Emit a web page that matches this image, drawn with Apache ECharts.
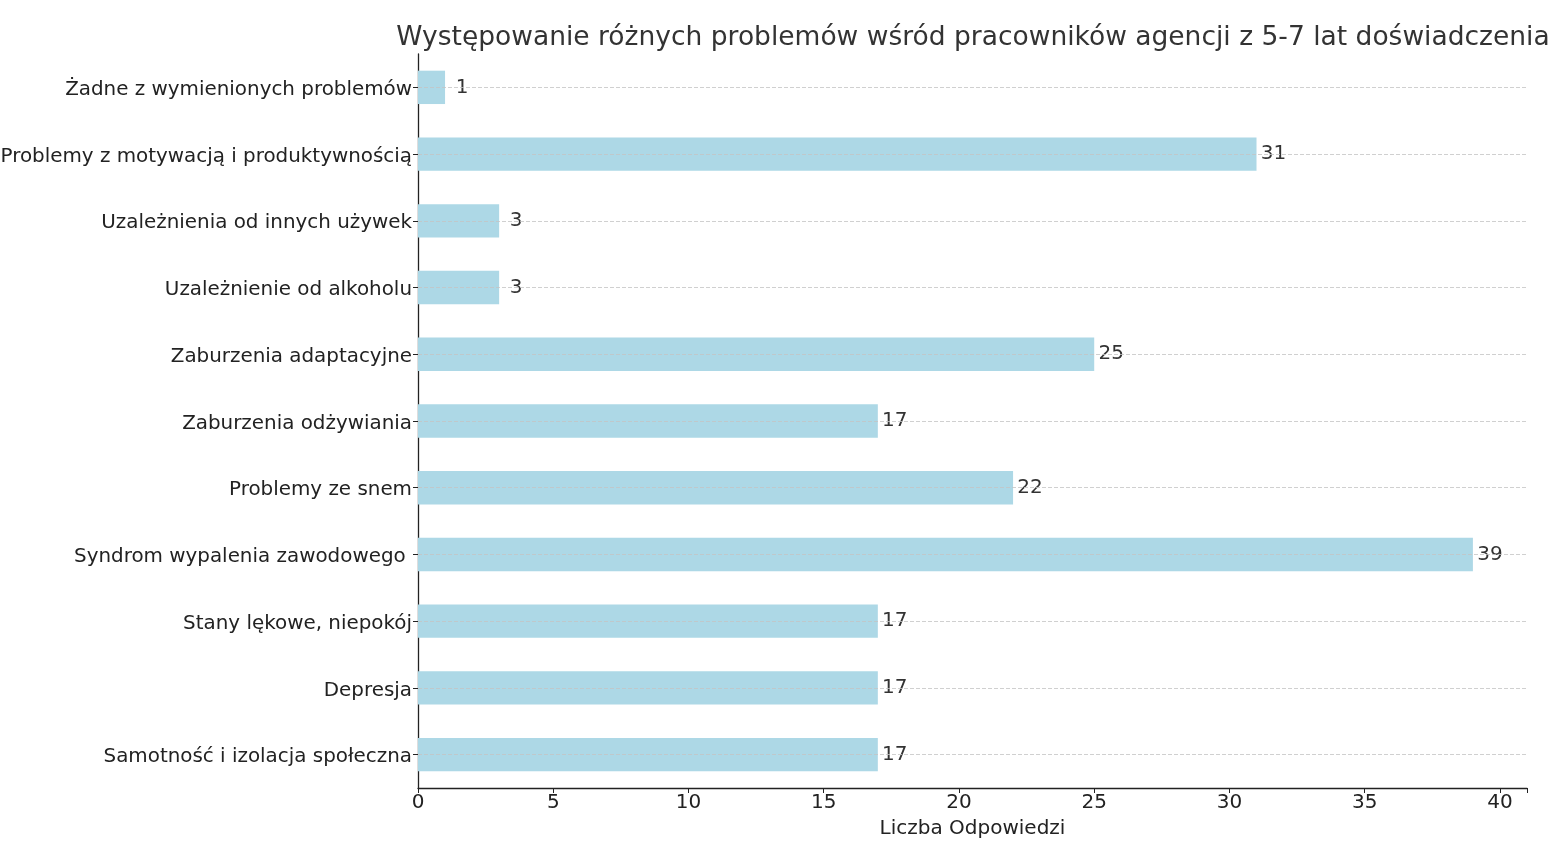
<!DOCTYPE html>
<html>
<head>
<meta charset="utf-8">
<script src="https://cdn.jsdelivr.net/npm/echarts@6/dist/echarts.min.js"></script>
<style>html,body{margin:0;padding:0;background:#fff;}#chart{width:1551px;height:865px;}</style>
</head>
<body>
<div id="chart"></div>
<script>
const categories = [
  'Samotność i izolacja społeczna',
  'Depresja',
  'Stany lękowe, niepokój',
  'Syndrom wypalenia zawodowego ',
  'Problemy ze snem',
  'Zaburzenia odżywiania',
  'Zaburzenia adaptacyjne',
  'Uzależnienie od alkoholu',
  'Uzależnienia od innych używek',
  'Problemy z motywacją i produktywnością',
  'Żadne z wymienionych problemów'
];
const values = [17, 17, 17, 39, 22, 17, 25, 3, 3, 31, 1];
const xTicks = [0, 5, 10, 15, 20, 25, 30, 35, 40];
const titleText = 'Występowanie różnych problemów wśród pracowników agencji z 5-7 lat doświadczenia';
const xAxisName = 'Liczba Odpowiedzi';

const chart = echarts.init(document.getElementById('chart'));
const font = 'DejaVu Sans';
chart.setOption({
  animation: false,
  title: {
    text: titleText,
    left: 968, top: 20, textAlign: 'center',
    textStyle: {fontFamily: font, fontSize: 26.5, fontWeight: 'normal', color: '#333'}
  },
  grid: {left: 418, right: 24, top: 54, bottom: 77, containLabel: false, outerBoundsMode: 'none'},
  xAxis: {
    type: 'value', min: 0, max: 41, interval: 5,
    name: xAxisName, nameLocation: 'middle', nameGap: 31,
    nameTextStyle: {fontFamily: font, fontSize: 20, color: '#222', verticalAlign: 'top'},
    axisLine: {show: true, lineStyle: {color: '#222', width: 1.3}},
    axisTick: {show: true, length: 5, lineStyle: {color: '#222'}},
    axisLabel: {fontFamily: font, fontSize: 20, color: '#222', margin: 5,
      formatter: v => xTicks.includes(v) ? String(v) : ''},
    splitLine: {show: false}
  },
  yAxis: {
    type: 'category', data: categories,
    axisLine: {show: true, lineStyle: {color: '#222', width: 1.3}},
    axisTick: {show: true, alignWithLabel: true, length: 5, lineStyle: {color: '#222'}},
    axisLabel: {margin: 6, formatter: v => '{a|' + v + '}',
      rich: {a: {fontFamily: font, fontSize: 19.9, color: '#222', padding: [5, 0, 0, 0]}}},
    splitLine: {show: false}
  },
  series: [{
    type: 'bar', data: values, barWidth: '50%',
    itemStyle: {color: '#add8e6'},
    label: {show: true, position: 'right', distance: 17, align: 'center',
      fontFamily: font, fontSize: 20, color: '#333'},
    markLine: {
      silent: true, symbol: 'none', z: 10,
      label: {show: false},
      lineStyle: {color: '#c4c4c4', type: [4, 2], width: 0.8},
      data: categories.map(c => ({yAxis: c}))
    }
  }]
});
</script>
</body>
</html>
